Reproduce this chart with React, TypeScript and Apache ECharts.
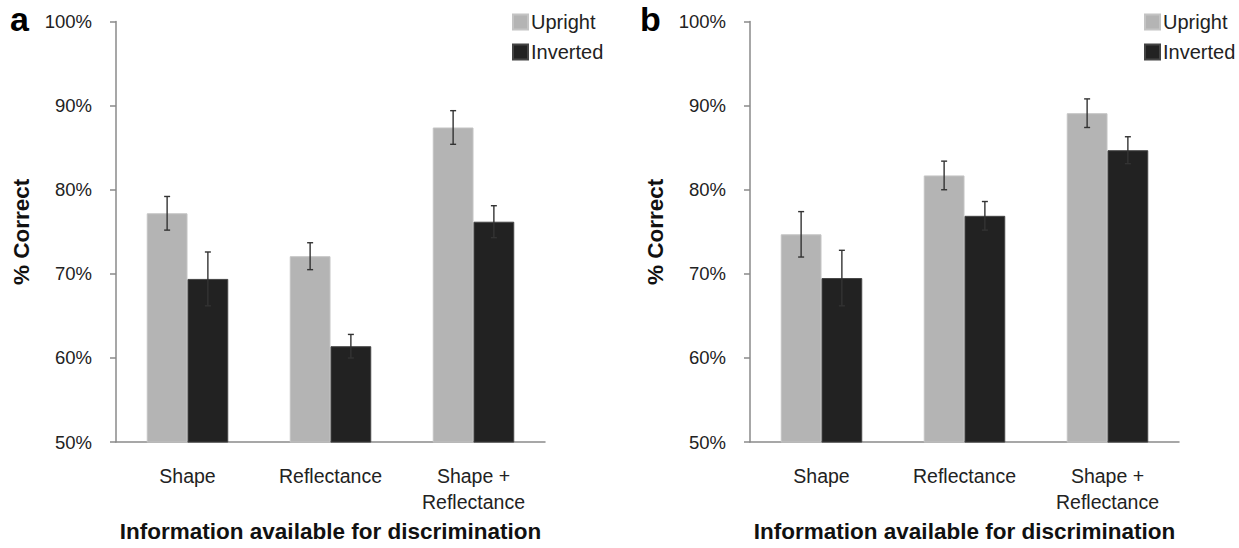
import React, { useEffect, useRef } from "react";
import * as echarts from "echarts";

const categories = ["Shape", "Reflectance", "Shape +\nReflectance"];
const seriesNames = ["Upright", "Inverted"];
const yTicks = [50, 60, 70, 80, 90, 100];

const uprightA = [77.2, 72.1, 87.4];
const uprightErrA = [2.0, 1.6, 2.0];
const invertedA = [69.4, 61.4, 76.2];
const invertedErrA = [3.2, 1.4, 1.9];

const uprightB = [74.7, 81.7, 89.1];
const uprightErrB = [2.7, 1.7, 1.7];
const invertedB = [69.5, 76.9, 84.7];
const invertedErrB = [3.3, 1.7, 1.6];

const UPRIGHT_COLOR = "#b4b4b4";
const INVERTED_COLOR = "#222222";
const CAT_GAP = 0.43;
const FONT = "'Liberation Sans', Arial, Helvetica, sans-serif";

function errData(vals: number[], errs: number[]) {
  return vals.map((v, i) => [i, v - errs[i], v + errs[i]]);
}

function makeErrSeries(vals: number[], errs: number[], idx: number, side: number) {
  return {
    type: "custom",
    xAxisIndex: idx,
    yAxisIndex: idx,
    z: 10,
    silent: true,
    encode: { x: 0, y: [1, 2] },
    data: errData(vals, errs),
    renderItem: (params: any, api: any) => {
      const lo = api.coord([api.value(0), api.value(1)]);
      const hi = api.coord([api.value(0), api.value(2)]);
      const band = api.size([1, 0])[0];
      const bw = (band * (1 - CAT_GAP)) / 2;
      const x = lo[0] + (side * bw) / 2;
      const cap = 3;
      const style = { stroke: "#333333", lineWidth: 1.4 };
      return {
        type: "group",
        children: [
          { type: "line", shape: { x1: x, y1: lo[1], x2: x, y2: hi[1] }, style },
          { type: "line", shape: { x1: x - cap, y1: lo[1], x2: x + cap, y2: lo[1] }, style },
          { type: "line", shape: { x1: x - cap, y1: hi[1], x2: x + cap, y2: hi[1] }, style },
        ],
      };
    },
  };
}

function makeAxes(idx: number) {
  const axisColor = "#8a8a8a";
  return {
    x: {
      type: "category",
      gridIndex: idx,
      data: categories,
      axisLine: { lineStyle: { color: axisColor, width: 1.5 } },
      axisTick: { length: 6, lineStyle: { color: axisColor, width: 1.5 } },
      axisLabel: {
        color: "#222",
        fontSize: 19.5,
        fontFamily: FONT,
        margin: 21,
        lineHeight: 26,
        interval: 0,
      },
      name: "Information available for discrimination",
      nameLocation: "middle",
      nameGap: 75,
      nameTextStyle: { color: "#111", fontSize: 22.5, fontWeight: "bold", fontFamily: FONT },
    },
    y: {
      type: "value",
      gridIndex: idx,
      min: yTicks[0],
      max: yTicks[yTicks.length - 1],
      interval: 10,
      splitLine: { show: false },
      axisLine: { show: true, lineStyle: { color: axisColor, width: 1.5 } },
      axisTick: { show: true, length: 6, lineStyle: { color: axisColor, width: 1.5 } },
      axisLabel: {
        color: "#222",
        fontSize: 18.5,
        fontFamily: FONT,
        margin: 24,
        formatter: "{value}%",
      },
      name: "% Correct",
      nameLocation: "middle",
      nameRotate: 90,
      nameGap: 83,
      nameTextStyle: { color: "#111", fontSize: 22.5, fontWeight: "bold", fontFamily: FONT },
    },
  };
}

export default function App() {
  const ref = useRef<HTMLDivElement>(null);

  useEffect(() => {
    if (!ref.current) return;
    const chart = echarts.init(ref.current, null, { renderer: "svg" });
    const a = makeAxes(0);
    const b = makeAxes(1);
    const legendCommon = {
      orient: "vertical",
      icon: "rect",
      itemWidth: 15,
      itemHeight: 15,
      itemGap: 10,
      data: seriesNames,
      selectedMode: false,
      textStyle: { color: "#222", fontSize: 20, fontFamily: FONT, lineHeight: 20, padding: [0, 0, 0, -2] },
      padding: 0,
    };
    const option: any = {
      animation: false,
      backgroundColor: "#ffffff",
      grid: [
        { left: 116, top: 21.5, width: 429, height: 430 },
        { left: 750, top: 21.5, width: 429, height: 430 },
      ],
      xAxis: [a.x, b.x],
      yAxis: [a.y, b.y],
      legend: [
        { ...legendCommon, left: 512, top: 12 },
        { ...legendCommon, left: 1144, top: 12 },
      ],
      graphic: [
        {
          type: "text",
          left: 10,
          top: 2,
          style: { text: "a", font: `bold 34px ${FONT}`, fill: "#000" },
        },
        {
          type: "text",
          left: 640,
          top: 2,
          style: { text: "b", font: `bold 34px ${FONT}`, fill: "#000" },
        },
      ],
      series: [
        {
          name: "Upright",
          type: "bar",
          xAxisIndex: 0,
          yAxisIndex: 0,
          data: uprightA,
          barGap: "0%",
          barCategoryGap: "43%",
          itemStyle: { color: UPRIGHT_COLOR, borderColor: "#c4c4c4", borderWidth: 1 },
        },
        {
          name: "Inverted",
          type: "bar",
          xAxisIndex: 0,
          yAxisIndex: 0,
          data: invertedA,
          barGap: "0%",
          barCategoryGap: "43%",
          itemStyle: { color: INVERTED_COLOR, borderColor: "#444", borderWidth: 1 },
        },
        {
          name: "Upright",
          type: "bar",
          xAxisIndex: 1,
          yAxisIndex: 1,
          data: uprightB,
          barGap: "0%",
          barCategoryGap: "43%",
          itemStyle: { color: UPRIGHT_COLOR, borderColor: "#c4c4c4", borderWidth: 1 },
        },
        {
          name: "Inverted",
          type: "bar",
          xAxisIndex: 1,
          yAxisIndex: 1,
          data: invertedB,
          barGap: "0%",
          barCategoryGap: "43%",
          itemStyle: { color: INVERTED_COLOR, borderColor: "#444", borderWidth: 1 },
        },
        makeErrSeries(uprightA, uprightErrA, 0, -1),
        makeErrSeries(invertedA, invertedErrA, 0, 1),
        makeErrSeries(uprightB, uprightErrB, 1, -1),
        makeErrSeries(invertedB, invertedErrB, 1, 1),
      ],
    };
    chart.setOption(option);
    return () => chart.dispose();
  }, []);

  return (
    <div
      ref={ref}
      style={{ position: "fixed", left: 0, top: 0, width: 1239, height: 548, background: "#fff" }}
    />
  );
}
